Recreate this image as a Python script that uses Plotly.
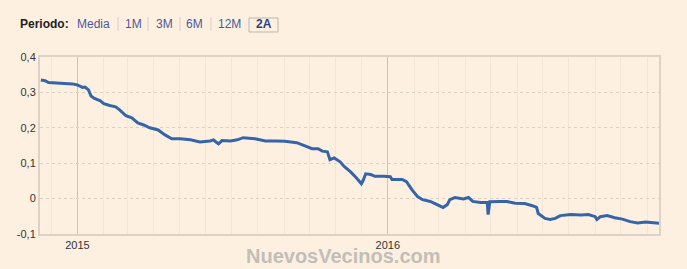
import plotly.graph_objects as go

dates = [
    "2014-11-19", "2014-11-24", "2014-11-28", "2014-12-06", "2014-12-18", "2014-12-26",
    "2015-01-01", "2015-01-07", "2015-01-10", "2015-01-14", "2015-01-17", "2015-01-21",
    "2015-01-28", "2015-02-01", "2015-02-08", "2015-02-15", "2015-02-20", "2015-02-27",
    "2015-03-06", "2015-03-13", "2015-03-20", "2015-03-27", "2015-04-06", "2015-04-14",
    "2015-04-22", "2015-05-02", "2015-05-14", "2015-05-25", "2015-06-06", "2015-06-10",
    "2015-06-13", "2015-06-16", "2015-06-20", "2015-06-30", "2015-07-08", "2015-07-15",
    "2015-07-29", "2015-08-10", "2015-08-22", "2015-09-02", "2015-09-16", "2015-09-26",
    "2015-10-04", "2015-10-11", "2015-10-16", "2015-10-22", "2015-10-25", "2015-10-30",
    "2015-11-06", "2015-11-11", "2015-11-18", "2015-11-25", "2015-12-01", "2015-12-03",
    "2015-12-06", "2015-12-12", "2015-12-17", "2015-12-27", "2016-01-04", "2016-01-06",
    "2016-01-18", "2016-01-23", "2016-01-30", "2016-02-05", "2016-02-11", "2016-02-20",
    "2016-02-28", "2016-03-06", "2016-03-11", "2016-03-14", "2016-03-20", "2016-03-30",
    "2016-04-05", "2016-04-10", "2016-04-19", "2016-04-27", "2016-04-28", "2016-04-30",
    "2016-05-12", "2016-05-20", "2016-05-30", "2016-06-10", "2016-06-19", "2016-06-24",
    "2016-06-26", "2016-07-04", "2016-07-10", "2016-07-16", "2016-07-22", "2016-08-03",
    "2016-08-15", "2016-08-24", "2016-09-01", "2016-09-03", "2016-09-07", "2016-09-15",
    "2016-09-24", "2016-10-03", "2016-10-12", "2016-10-21", "2016-10-30", "2016-11-07",
    "2016-11-15",
]
values = [
    0.335, 0.333, 0.328, 0.327, 0.327, 0.324,
    0.321, 0.314, 0.315, 0.307, 0.290, 0.283,
    0.276, 0.268, 0.263, 0.259, 0.250, 0.234,
    0.228, 0.214, 0.208, 0.200, 0.194, 0.180,
    0.169, 0.169, 0.166, 0.160, 0.163, 0.166,
    0.160, 0.155, 0.164, 0.163, 0.166, 0.172,
    0.169, 0.163, 0.163, 0.162, 0.158, 0.148,
    0.141, 0.141, 0.134, 0.132, 0.110, 0.115,
    0.104, 0.090, 0.076, 0.059, 0.042, 0.051,
    0.070, 0.068, 0.063, 0.063, 0.062, 0.054,
    0.054, 0.048, 0.023, 0.006, -0.003, -0.008,
    -0.017, -0.025, -0.017, -0.003, 0.003, -0.001,
    0.003, -0.008, -0.011, -0.011, -0.045, -0.009,
    -0.008, -0.008, -0.013, -0.014, -0.020, -0.025,
    -0.042, -0.056, -0.059, -0.056, -0.048, -0.045,
    -0.046, -0.045, -0.051, -0.059, -0.051, -0.048,
    -0.054, -0.058, -0.065, -0.069, -0.066, -0.068,
    -0.070,
]

x_ticks = ["2015-01-01", "2016-01-01"]
x_labels = ["2015", "2016"]
y_ticks = [-0.1, 0, 0.1, 0.2, 0.3, 0.4]
y_labels = ["-0,1", "0", "0,1", "0,2", "0,3", "0,4"]

periods = ["Media", "1M", "3M", "6M", "12M", "2A"]
period_x = [93, 133.5, 164.5, 194.5, 229.5, 264]

BG = "#fdf0e1"
fig = go.Figure()
fig.add_trace(go.Scatter(
    x=dates, y=values, mode="lines",
    line=dict(color="#3565a8", width=3), hoverinfo="skip", showlegend=False,
))

fig.update_layout(
    width=687, height=269,
    margin=dict(l=40, r=28, t=57, b=35),
    paper_bgcolor=BG, plot_bgcolor=BG,
    font=dict(family="Liberation Sans, Arial, sans-serif", size=11, color="#333333"),
    showlegend=False,
)
fig.update_xaxes(
    type="date", range=["2014-11-18", "2016-11-15"],
    tickvals=x_ticks, ticktext=x_labels, ticks="",
    showgrid=True, gridcolor="#cbc3ba", gridwidth=1,
    minor=dict(dtick="M1", tick0="2015-01-01", showgrid=True, gridcolor="#f4e6d5", gridwidth=1),
    showline=True, linecolor="#ddd2c6", linewidth=2, mirror=True,
    tickfont=dict(size=11, color="#333333"),
)
fig.update_yaxes(
    range=[-0.1, 0.4], tickvals=y_ticks, ticktext=y_labels, ticks="",
    showgrid=True, gridcolor="#dcd2c4", griddash="dot", gridwidth=1,
    zeroline=False,
    showline=True, linecolor="#ddd2c6", linewidth=2, mirror=True,
    tickfont=dict(size=11, color="#333333"),
)

annotations = [
    dict(text="<b>Periodo:</b>", x=18, y=269 - 24, xref="paper", yref="paper",
         showarrow=False, xanchor="left", yanchor="middle",
         font=dict(size=12, color="#222222")),
]
for label, px in zip(periods, period_x):
    annotations.append(dict(
        text=("<b>%s</b>" % label) if label == "2A" else label,
        x=px, y=269 - 24, showarrow=False, xanchor="center", yanchor="middle",
        font=dict(size=12, color="#2e3f80" if label == "2A" else "#4a5a9c"),
    ))
annotations.append(dict(
    text="<b>NuevosVecinos.com</b>", x=343, y=269 - 256, showarrow=False,
    xanchor="center", yanchor="middle",
    font=dict(size=20, color="#c2beb8", family="Liberation Sans, Arial, sans-serif"),
))
# convert pixel coordinates to paper coordinates
pw, ph = 687 - 40 - 28, 269 - 57 - 35
for a in annotations:
    a["xref"] = "paper"; a["yref"] = "paper"
    a["x"] = (a["x"] - 40) / pw
    a["y"] = (a["y"] - 35) / ph
fig.update_layout(annotations=annotations)

shapes = []
for sx in [118, 148, 180, 211]:
    shapes.append(dict(type="line", xref="paper", yref="paper",
                       x0=(sx - 40) / pw, x1=(sx - 40) / pw,
                       y0=(269 - 17 - 35) / ph, y1=(269 - 31 - 35) / ph,
                       line=dict(color="#d8cfc4", width=1)))
shapes.append(dict(type="rect", xref="paper", yref="paper",
                   x0=(249 - 40) / pw, x1=(278 - 40) / pw,
                   y0=(269 - 32 - 35) / ph, y1=(269 - 18 - 35) / ph,
                   line=dict(color="#bdb5ac", width=1), fillcolor="rgba(0,0,0,0)"))
fig.update_layout(shapes=shapes)

fig.write_html("out.html")
